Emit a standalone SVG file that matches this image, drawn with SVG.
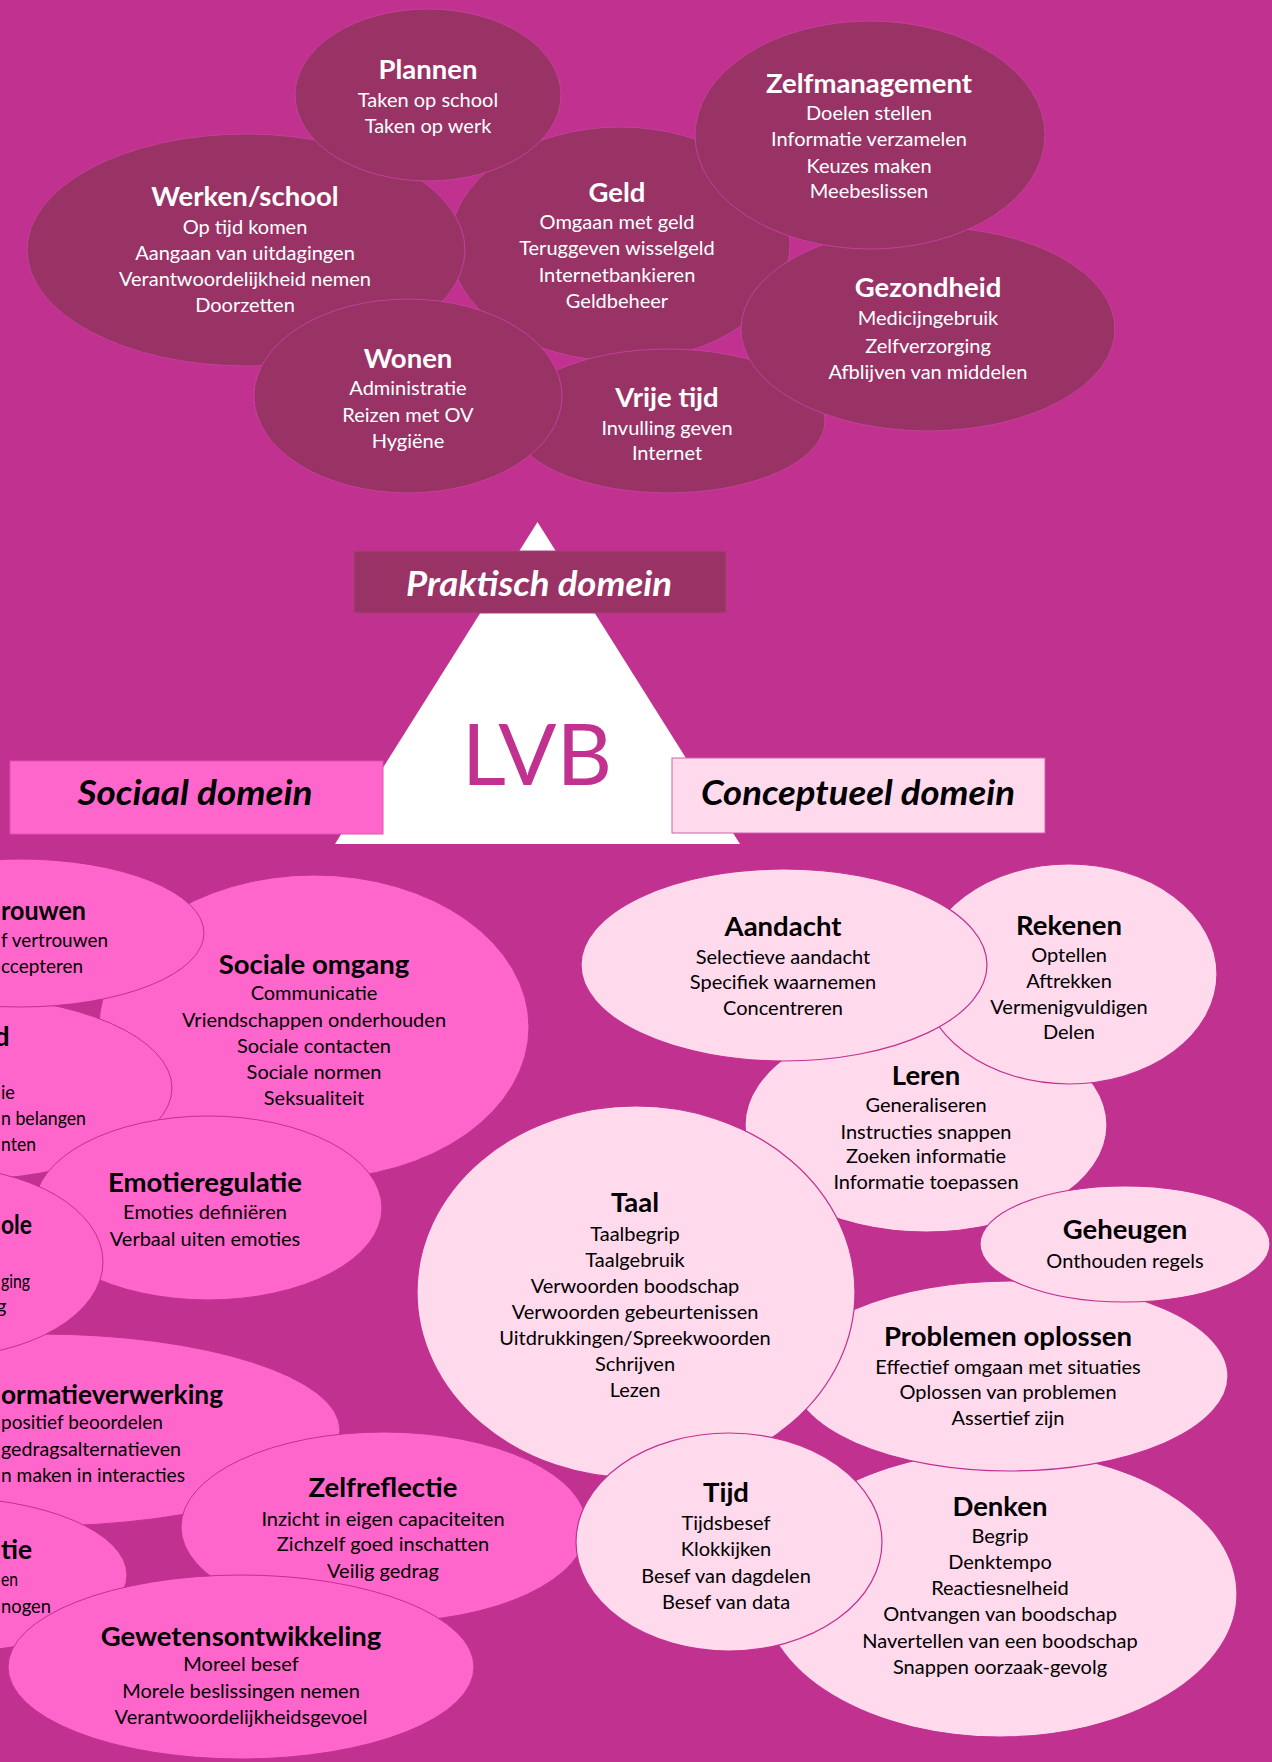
<svg xmlns="http://www.w3.org/2000/svg" width="1272" height="1762" viewBox="0 0 1272 1762">
<style>
.t{font-family:Lato,"Noto Sans",sans-serif;text-anchor:middle}
.s{text-anchor:start}
.h{font-weight:700;font-size:27.5px}
.b{font-size:20px}
.w{fill:#ffffff}
.k{fill:#000000}
.dk{fill:#993366;stroke:#C4409A;stroke-width:1}
.hp{fill:#FF66CC;stroke:#C13190;stroke-width:1}
.lp{fill:#FFD9EC;stroke:#C13190;stroke-width:1.2}
.dom{font-family:Lato,"Noto Sans",sans-serif;font-weight:700;font-style:italic;font-size:34px;text-anchor:middle}
</style>
<defs>
<clipPath id="lerenClip"><rect x="700" y="1000" width="450" height="191"/></clipPath>
</defs>
<rect x="0" y="0" width="1272" height="1762" fill="#C1318F"/>

<!-- Praktisch domein ellipses -->
<g id="geld">
<ellipse class="dk" cx="620" cy="244" rx="170" ry="117"/>
<text class="t w h" x="617" y="202">Geld</text>
<text class="t w b" x="617" y="229">Omgaan met geld</text>
<text class="t w b" x="617" y="255">Teruggeven wisselgeld</text>
<text class="t w b" x="617" y="282">Internetbankieren</text>
<text class="t w b" x="617" y="308">Geldbeheer</text>
</g>
<g id="vrije-tijd">
<ellipse class="dk" cx="668" cy="421" rx="157" ry="72"/>
<text class="t w h" x="667" y="407">Vrije tijd</text>
<text class="t w b" x="667" y="435">Invulling geven</text>
<text class="t w b" x="667" y="460">Internet</text>
</g>
<g id="werken-school">
<ellipse class="dk" cx="246" cy="250" rx="219" ry="116"/>
<text class="t w h" x="245" y="206">Werken/school</text>
<text class="t w b" x="245" y="234">Op tijd komen</text>
<text class="t w b" x="245" y="260">Aangaan van uitdagingen</text>
<text class="t w b" x="245" y="286">Verantwoordelijkheid nemen</text>
<text class="t w b" x="245" y="312">Doorzetten</text>
</g>
<g id="gezondheid">
<ellipse class="dk" cx="928" cy="329" rx="187" ry="102"/>
<text class="t w h" x="928" y="297">Gezondheid</text>
<text class="t w b" x="928" y="325">Medicijngebruik</text>
<text class="t w b" x="928" y="353">Zelfverzorging</text>
<text class="t w b" x="928" y="379">Afblijven van middelen</text>
</g>
<g id="zelfmanagement">
<ellipse class="dk" cx="870" cy="135" rx="175" ry="114"/>
<text class="t w h" x="869" y="93">Zelfmanagement</text>
<text class="t w b" x="869" y="120">Doelen stellen</text>
<text class="t w b" x="869" y="146">Informatie verzamelen</text>
<text class="t w b" x="869" y="173">Keuzes maken</text>
<text class="t w b" x="869" y="198">Meebeslissen</text>
</g>
<g id="plannen">
<ellipse class="dk" cx="428" cy="95" rx="133" ry="86"/>
<text class="t w h" x="428" y="79">Plannen</text>
<text class="t w b" x="428" y="107">Taken op school</text>
<text class="t w b" x="428" y="133">Taken op werk</text>
</g>
<g id="wonen">
<ellipse class="dk" cx="408" cy="396" rx="154" ry="97"/>
<text class="t w h" x="408" y="368">Wonen</text>
<text class="t w b" x="408" y="395">Administratie</text>
<text class="t w b" x="408" y="422">Reizen met OV</text>
<text class="t w b" x="408" y="448">Hygiëne</text>
</g>

<!-- Centre: LVB triangle and domain labels -->
<g id="lvb">
<polygon points="537.5,522 335,844 740,844" fill="#ffffff"/>
<text x="537" y="785" font-family="Lato,'Noto Sans',sans-serif" font-size="86" fill="#C1318F" text-anchor="middle">LVB</text>
</g>
<g id="praktisch-domein">
<rect x="354" y="551" width="372" height="62" fill="#993366" stroke="#A8407A" stroke-width="1"/>
<text class="dom" x="539" y="596" fill="#ffffff" textLength="266" lengthAdjust="spacingAndGlyphs">Praktisch domein</text>
</g>
<g id="sociaal-domein">
<rect x="10" y="761" width="373" height="73" fill="#FF66CC" stroke="#E050B8" stroke-width="1"/>
<text class="dom" x="195" y="805" fill="#000000" textLength="235" lengthAdjust="spacingAndGlyphs">Sociaal domein</text>
</g>
<g id="conceptueel-domein">
<rect x="672" y="758" width="373" height="75" fill="#FFD9EC" stroke="#D060A8" stroke-width="1"/>
<text class="dom" x="858" y="805" fill="#000000" textLength="314" lengthAdjust="spacingAndGlyphs">Conceptueel domein</text>
</g>

<!-- Sociaal domein ellipses -->
<g id="sociale-omgang">
<ellipse class="hp" cx="314" cy="1027" rx="215" ry="152"/>
<text class="t k h" x="314" y="974">Sociale omgang</text>
<text class="t k b" x="314" y="1000">Communicatie</text>
<text class="t k b" x="314" y="1027">Vriendschappen onderhouden</text>
<text class="t k b" x="314" y="1053">Sociale contacten</text>
<text class="t k b" x="314" y="1079">Sociale normen</text>
<text class="t k b" x="314" y="1105">Seksualiteit</text>
</g>
<g id="node-d">
<ellipse class="hp" cx="-40" cy="1088" rx="212" ry="92"/>
<text class="t s k h" x="-6" y="1046">d</text>
<text class="t s k b" x="1" y="1099" textLength="14" lengthAdjust="spacingAndGlyphs">ie</text>
<text class="t s k b" x="1" y="1125" textLength="85" lengthAdjust="spacingAndGlyphs">n belangen</text>
<text class="t s k b" x="1" y="1151" textLength="35" lengthAdjust="spacingAndGlyphs">nten</text>
</g>
<g id="vertrouwen">
<ellipse class="hp" cx="20" cy="933" rx="184" ry="74"/>
<text class="t s k h" x="1" y="920" textLength="85" lengthAdjust="spacingAndGlyphs">rouwen</text>
<text class="t s k b" x="1" y="947" textLength="107" lengthAdjust="spacingAndGlyphs">f vertrouwen</text>
<text class="t s k b" x="1" y="973" textLength="82" lengthAdjust="spacingAndGlyphs">ccepteren</text>
</g>
<g id="emotieregulatie">
<ellipse class="hp" cx="208" cy="1208" rx="174" ry="92"/>
<text class="t k h" x="205" y="1192">Emotieregulatie</text>
<text class="t k b" x="205" y="1219">Emoties definiëren</text>
<text class="t k b" x="205" y="1246">Verbaal uiten emoties</text>
</g>
<g id="informatieverwerking">
<ellipse class="hp" cx="40" cy="1430" rx="300" ry="96"/>
<text class="t s k h" x="1" y="1404" textLength="222" lengthAdjust="spacingAndGlyphs">ormatieverwerking</text>
<text class="t s k b" x="1" y="1429" textLength="162" lengthAdjust="spacingAndGlyphs">positief beoordelen</text>
<text class="t s k b" x="1" y="1456" textLength="180" lengthAdjust="spacingAndGlyphs">gedragsalternatieven</text>
<text class="t s k b" x="1" y="1482" textLength="184" lengthAdjust="spacingAndGlyphs">n maken in interacties</text>
</g>
<g id="node-ole">
<ellipse class="hp" cx="-60" cy="1262" rx="163" ry="95"/>
<text class="t s k h" x="1" y="1234" textLength="31" lengthAdjust="spacingAndGlyphs">ole</text>
<text class="t s k b" x="1" y="1288" textLength="29" lengthAdjust="spacingAndGlyphs">ging</text>
<text class="t s k b" x="-4" y="1313">g</text>
</g>
<g id="zelfreflectie">
<ellipse class="hp" cx="384" cy="1527" rx="203" ry="95"/>
<text class="t k h" x="383" y="1497">Zelfreflectie</text>
<text class="t k b" x="383" y="1526">Inzicht in eigen capaciteiten</text>
<text class="t k b" x="383" y="1551">Zichzelf goed inschatten</text>
<text class="t k b" x="383" y="1578">Veilig gedrag</text>
</g>
<g id="node-tie">
<ellipse class="hp" cx="-60" cy="1575" rx="187" ry="78"/>
<text class="t s k h" x="1" y="1559" textLength="31" lengthAdjust="spacingAndGlyphs">tie</text>
<text class="t s k b" x="1" y="1586" textLength="17" lengthAdjust="spacingAndGlyphs">en</text>
<text class="t s k b" x="1" y="1613" textLength="50" lengthAdjust="spacingAndGlyphs">nogen</text>
</g>
<g id="gewetensontwikkeling">
<ellipse class="hp" cx="241" cy="1667" rx="233" ry="92"/>
<text class="t k h" x="241" y="1646">Gewetensontwikkeling</text>
<text class="t k b" x="241" y="1671">Moreel besef</text>
<text class="t k b" x="241" y="1698">Morele beslissingen nemen</text>
<text class="t k b" x="241" y="1724">Verantwoordelijkheidsgevoel</text>
</g>

<!-- Conceptueel domein ellipses -->
<g id="leren">
<ellipse class="lp" cx="926" cy="1125" rx="181" ry="107"/>
<text class="t k h" x="926" y="1085">Leren</text>
<text class="t k b" x="926" y="1112">Generaliseren</text>
<text class="t k b" x="926" y="1139">Instructies snappen</text>
<text class="t k b" x="926" y="1163">Zoeken informatie</text>
<text class="t k b" x="926" y="1189" clip-path="url(#lerenClip)">Informatie toepassen</text>
</g>
<g id="rekenen">
<ellipse class="lp" cx="1069" cy="974" rx="148" ry="110"/>
<text class="t k h" x="1069" y="935">Rekenen</text>
<text class="t k b" x="1069" y="962">Optellen</text>
<text class="t k b" x="1069" y="988">Aftrekken</text>
<text class="t k b" x="1069" y="1014">Vermenigvuldigen</text>
<text class="t k b" x="1069" y="1039">Delen</text>
</g>
<g id="aandacht">
<ellipse class="lp" cx="784" cy="965" rx="203" ry="96"/>
<text class="t k h" x="783" y="936">Aandacht</text>
<text class="t k b" x="783" y="964">Selectieve aandacht</text>
<text class="t k b" x="783" y="989">Specifiek waarnemen</text>
<text class="t k b" x="783" y="1015">Concentreren</text>
</g>
<g id="denken">
<ellipse class="lp" cx="1000" cy="1594" rx="237" ry="143"/>
<text class="t k h" x="1000" y="1516">Denken</text>
<text class="t k b" x="1000" y="1543">Begrip</text>
<text class="t k b" x="1000" y="1569">Denktempo</text>
<text class="t k b" x="1000" y="1595">Reactiesnelheid</text>
<text class="t k b" x="1000" y="1621">Ontvangen van boodschap</text>
<text class="t k b" x="1000" y="1648">Navertellen van een boodschap</text>
<text class="t k b" x="1000" y="1674">Snappen oorzaak-gevolg</text>
</g>
<g id="problemen-oplossen">
<ellipse class="lp" cx="1010" cy="1376" rx="218" ry="95"/>
<text class="t k h" x="1008" y="1346">Problemen oplossen</text>
<text class="t k b" x="1008" y="1374">Effectief omgaan met situaties</text>
<text class="t k b" x="1008" y="1399">Oplossen van problemen</text>
<text class="t k b" x="1008" y="1425">Assertief zijn</text>
</g>
<g id="geheugen">
<ellipse class="lp" cx="1125" cy="1244" rx="145" ry="58"/>
<text class="t k h" x="1125" y="1239">Geheugen</text>
<text class="t k b" x="1125" y="1268">Onthouden regels</text>
</g>
<g id="taal">
<ellipse class="lp" cx="636" cy="1292" rx="219" ry="186"/>
<text class="t k h" x="635" y="1212">Taal</text>
<text class="t k b" x="635" y="1241">Taalbegrip</text>
<text class="t k b" x="635" y="1267">Taalgebruik</text>
<text class="t k b" x="635" y="1293">Verwoorden boodschap</text>
<text class="t k b" x="635" y="1319">Verwoorden gebeurtenissen</text>
<text class="t k b" x="635" y="1345">Uitdrukkingen/Spreekwoorden</text>
<text class="t k b" x="635" y="1371">Schrijven</text>
<text class="t k b" x="635" y="1397">Lezen</text>
</g>
<g id="tijd">
<ellipse class="lp" cx="729" cy="1542" rx="153" ry="109"/>
<text class="t k h" x="726" y="1502">Tijd</text>
<text class="t k b" x="726" y="1530">Tijdsbesef</text>
<text class="t k b" x="726" y="1556">Klokkijken</text>
<text class="t k b" x="726" y="1583">Besef van dagdelen</text>
<text class="t k b" x="726" y="1609">Besef van data</text>
</g>
<g id="connectors"></g>
</svg>
